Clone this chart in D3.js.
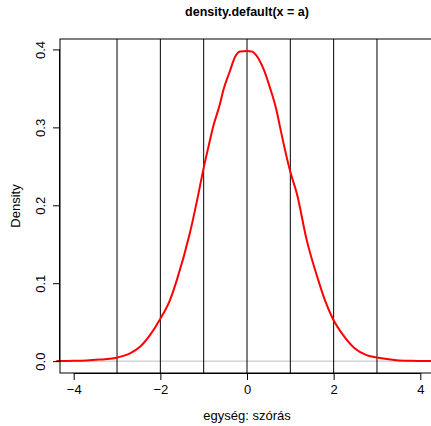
<!DOCTYPE html>
<html>
<head>
<meta charset="utf-8">
<script src="https://cdn.jsdelivr.net/npm/d3@7"></script>
<style>
  body { margin: 0; background: #fff; }
  text { font-family: "Liberation Sans", Arial, sans-serif; }
</style>
</head>
<body>
<svg id="chart" width="431" height="426"></svg>
<script>
// density estimate
const densityX = [-4.4, -4.0, -3.7, -3.4, -3.16, -2.99, -2.70, -2.47, -2.24, -2.01, -1.78, -1.62, -1.32,
  -1.12, -1.0, -0.89, -0.78, -0.62, -0.55, -0.39, -0.28, -0.16, 0.0, 0.11, 0.22, 0.38, 0.53, 0.685,
  0.76, 0.99, 1.15, 1.38, 1.645, 1.80, 1.99, 2.22, 2.49, 2.76, 3.03, 3.45, 3.8, 4.1, 4.4];
const densityY = [0.0002, 0.0005, 0.001, 0.002, 0.003, 0.0047, 0.0099, 0.0184, 0.0334, 0.0535, 0.078,
  0.104, 0.164, 0.215, 0.248, 0.275, 0.301, 0.331, 0.347, 0.373, 0.390, 0.3975, 0.398, 0.3975, 0.392,
  0.375, 0.351, 0.321, 0.301, 0.245, 0.215, 0.155, 0.104, 0.078, 0.0535, 0.0334, 0.0163, 0.0077,
  0.0043, 0.0013, 0.0005, 0.0002, 0.0001];
const sdLines = [-3, -2, -1, 0, 1, 2, 3];
const xTicks = [-4, -2, 0, 2, 4];
const yTicks = [0.0, 0.1, 0.2, 0.3, 0.4];

const box = { left: 60, right: 434, top: 39, bottom: 373 };

const svg = d3.select("#chart");

const x = d3.scaleLinear().domain([-4.316, 4.316]).range([box.left, box.right]);
const y = d3.scaleLinear().domain([-0.0152, 0.4134]).range([box.bottom, box.top]);

// zero line
svg.append("line")
  .attr("x1", box.left).attr("x2", box.right)
  .attr("y1", y(0)).attr("y2", y(0))
  .attr("stroke", "#bebebe").attr("stroke-width", 1);

// vertical lines at whole standard deviations
svg.selectAll("line.sd")
  .data(sdLines)
  .enter().append("line")
    .attr("class", "sd")
    .attr("x1", d => x(d)).attr("x2", d => x(d))
    .attr("y1", box.top).attr("y2", box.bottom)
    .attr("stroke", "#000").attr("stroke-width", 1);

// density curve
const line = d3.line()
  .x((d, i) => x(densityX[i]))
  .y(d => y(d))
  .curve(d3.curveMonotoneX);

svg.append("path")
  .datum(densityY)
  .attr("d", line)
  .attr("fill", "none")
  .attr("stroke", "#ff0000")
  .attr("stroke-width", 2);

// plot box
svg.append("rect")
  .attr("x", box.left).attr("y", box.top)
  .attr("width", box.right - box.left).attr("height", box.bottom - box.top)
  .attr("fill", "none").attr("stroke", "#000").attr("stroke-width", 1);

// x axis
const xAxis = svg.append("g")
  .attr("transform", `translate(0,${box.bottom})`)
  .call(d3.axisBottom(x).tickValues(xTicks).tickSize(7).tickPadding(5)
    .tickFormat(d => d < 0 ? "\u2212" + Math.abs(d) : d));
xAxis.select(".domain").attr("d", `M${x(-4)},0.5H${x(4)}`);
xAxis.selectAll("text").attr("font-size", 13).attr("font-family", "Liberation Sans, Arial, sans-serif").attr("fill", "#000");

// y axis
const yAxis = svg.append("g")
  .attr("transform", `translate(${box.left},0)`)
  .call(d3.axisLeft(y).tickValues(yTicks).tickSize(7).tickFormat(d3.format(".1f")));
yAxis.select(".domain").attr("d", `M-0.5,${y(0)}V${y(0.4)}`);
yAxis.selectAll("text").remove();
yAxis.selectAll(".tick").append("text")
  .attr("transform", "translate(-15,0) rotate(-90)")
  .attr("text-anchor", "middle")
  .attr("font-size", 13)
  .attr("fill", "#000")
  .text(d => d3.format(".1f")(d));

// labels
svg.append("text")
  .attr("x", (box.left + box.right) / 2).attr("y", 16)
  .attr("text-anchor", "middle")
  .attr("font-size", 12.5).attr("font-weight", "bold")
  .text("density.default(x = a)");

svg.append("text")
  .attr("x", (box.left + box.right) / 2).attr("y", 420)
  .attr("text-anchor", "middle")
  .attr("font-size", 13)
  .text("egység: szórás");

svg.append("text")
  .attr("transform", `translate(20,${(box.top + box.bottom) / 2}) rotate(-90)`)
  .attr("text-anchor", "middle")
  .attr("font-size", 13)
  .text("Density");
</script>
</body>
</html>
